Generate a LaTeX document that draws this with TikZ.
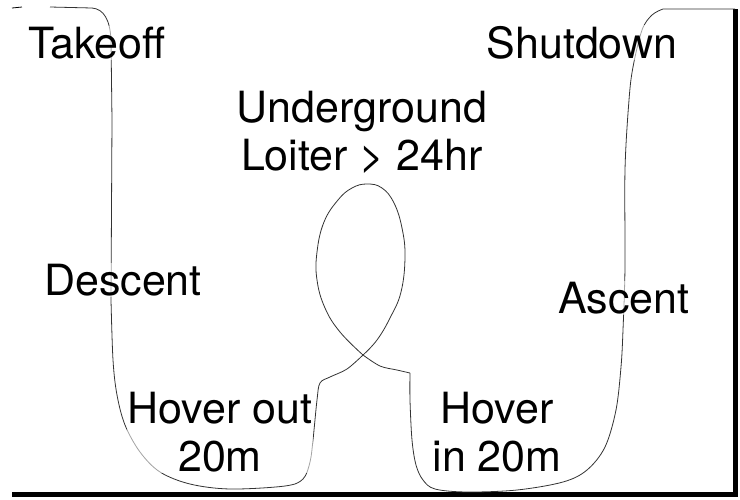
\documentclass[tikz,border=0pt]{standalone}
\usepackage{fontspec}
\setmainfont{TeX Gyre Heros}
\begin{document}
\begin{tikzpicture}[x=1pt,y=-1pt,
  lbl/.style={font=\fontsize{43}{48}\selectfont, inner sep=1pt, fill=white, fill opacity=0.55, text opacity=1, align=center, anchor=base},
  route/.style={line width=0.8pt, draw=black!80, line join=round},
  frame/.style={line width=4.6pt, draw=black}]
\useasboundingbox (0,0) rectangle (740,499);
% frame
\draw[frame] (12,494.5) -- (735.5,494.5) -- (735.5,9);
\draw[line width=0.8pt] (12,8) -- (22,7);
% route
\draw[route] (50,7) -- (92,8) .. controls (104,9) and (110,20) .. (111,40) -- (112,120) -- (111,300)
  plot[smooth, tension=0.55] coordinates {(111,300) (113,360) (117,395) (125,425) (140,452) (160,472) (190,484) (230,489) (285,486) (303,479) (310,462) (313,440) (317,400) (320,383) (330,377) (347,369) (363,355)}
  plot[smooth, tension=0.7] coordinates {(363,355) (340,332) (325,308) (317,280) (317,252) (324,222) (338,200) (352,188) (367,184) (382,188) (394,203) (402,228) (405,257) (401,292) (390,318) (377,340) (363,355)}
  plot[smooth, tension=0.55] coordinates {(363,355) (380,366) (397,370) (410,373)}
  plot[smooth, tension=0.55] coordinates {(410,373) (410,400) (412,440) (416,465) (423,480) (435,489) (467,492) (517,490) (563,482) (587,470) (605,447) (616,410) (621,367) (623,330) (625,267) (625,170) (629,100) (633,67) (642,30) (652,15) (663,9)}
  -- (735,9);
% labels
\node[lbl] (takeoff) at (97,58) {Takeoff};
\node[lbl] (shutdown) at (582,58) {Shutdown};
\node[lbl] (loiter) at (362,170) {Underground\\Loiter > 24hr};
\node[lbl] (descent) at (123,295) {Descent};
\node[lbl] (ascent) at (624,313) {Ascent};
\node[lbl] (hoverout) at (220,471) {Hover out\\20m};
\node[lbl] (hoverin) at (497,471) {Hover\\in 20m};
\end{tikzpicture}
\end{document}
